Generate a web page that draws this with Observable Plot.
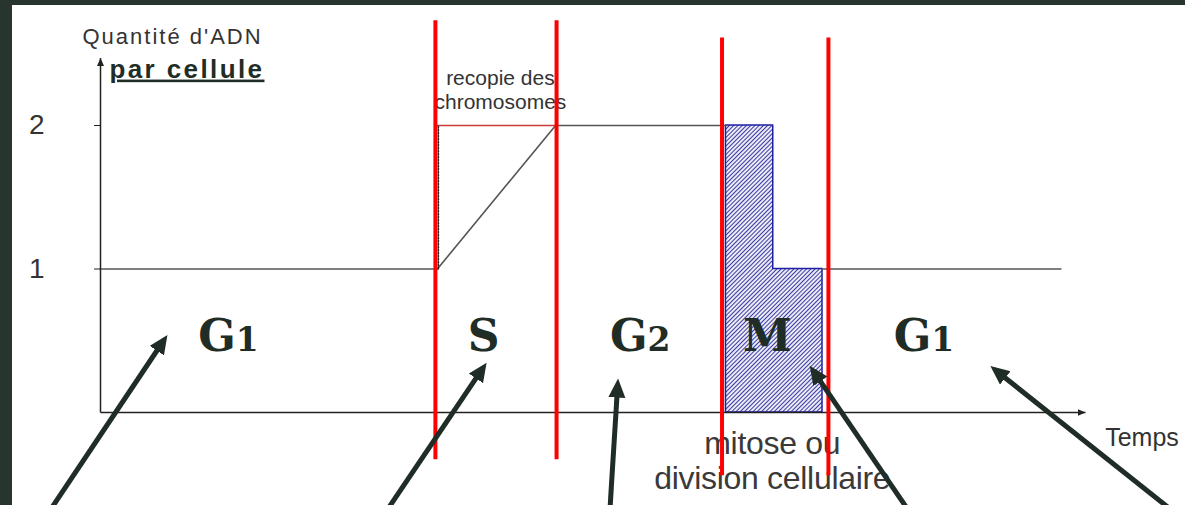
<!DOCTYPE html>
<html>
<head>
<meta charset="utf-8">
<script src="https://cdn.jsdelivr.net/npm/d3@7"></script>
<script src="https://cdn.jsdelivr.net/npm/@observablehq/plot@0.6"></script>
<style>
  html, body { margin: 0; padding: 0; }
  body { width: 1185px; height: 505px; overflow: hidden; background: #28352f; position: relative; }
  #panel { position: absolute; left: 12px; top: 5px; width: 1173px; height: 500px; background: #ffffff; overflow: hidden; }
  g[aria-description="title"] text { letter-spacing: 2px; }
  g[aria-description="subtitle"] text { letter-spacing: 2.4px; text-decoration: underline; }
  g[aria-description="mitosis-note"] text { letter-spacing: -0.3px; }
</style>
</head>
<body>
<div id="panel"></div>
<script>
// ---- data (time in arbitrary units 0..100, DNA quantity per cell) ----
const dnaTime1 = [0, 34.2, 46.2, 63.5];      // G1 -> S (replication) -> G2
const dnaQty1  = [1, 1, 2, 2];
const dnaTime2 = [73.3, 97.5];               // after mitosis (new G1)
const dnaQty2  = [1, 1];
const mitosisTime = [63.5, 68.3, 73.3];      // hatched mitosis block
const mitosisQty  = [2, 1, 1];
const replicationTime = [34.2, 46.2];        // "recopie des chromosomes"
const replicationQty  = [2, 2];
const dottedTime = [34.3, 34.3];
const dottedQty  = [1, 2];

const phaseNames   = ["G1", "S", "G2", "M", "G1"];
const phaseCenters = [13.0, 38.9, 54.8, 67.7, 83.6];
const phaseLabelQty = 0.53;

const boundaryTime   = [34.0, 46.3, 63.1, 73.9];
const boundaryTop    = [2.73, 2.73, 2.61, 2.61];
const boundaryBottom = [-0.33, -0.33, -0.44, -0.44];

const pointerTipT  = [6.4, 38.8, 52.5, 72.4, 90.9];
const pointerTipQ  = [0.50, 0.307, 0.188, 0.286, 0.293];
const pointerTailT = [-5.3, 28.9, 51.7, 82.2, 109.1];
const pointerTailQ = [-0.70, -0.70, -0.70, -0.70, -0.70];

const yTicks = [1, 2];
const yTickLabels = ["1", "2"];
const axisEndT = 100;
const axisEndQ = 2.47;

const titleText = "Quantité d'ADN";
const subtitleText = "par cellule";
const replicationText = "recopie des\nchromosomes";
const mitosisText = "mitose ou\ndivision cellulaire";
const timeText = "Temps";

// ---- tables built from the arrays ----
const line1 = dnaTime1.map((t, i) => ({t, q: dnaQty1[i], s: "a"}));
const line2 = dnaTime2.map((t, i) => ({t, q: dnaQty2[i], s: "b"}));
const mitosis = mitosisTime.map((t, i) => ({t, q: mitosisQty[i]}));
const replication = replicationTime.map((t, i) => ({t, q: replicationQty[i]}));
const dotted = dottedTime.map((t, i) => ({t, q: dottedQty[i]}));
const phases = phaseNames.map((name, i) => ({name, t: phaseCenters[i], q: phaseLabelQty}));
const boundaries = boundaryTime.map((t, i) => ({t, top: boundaryTop[i], bottom: boundaryBottom[i]}));
const pointers = pointerTipT.map((t, i) => ({t1: pointerTailT[i], q1: pointerTailQ[i], t2: t, q2: pointerTipQ[i]}));
const axes = [{t1: 0, q1: 0, t2: 0, q2: axisEndQ}, {t1: 0, q1: 0, t2: axisEndT, q2: 0}];
const tickFmt = v => yTickLabels[yTicks.indexOf(v)] ?? String(v);

const dark = "#1f2d26";
const hasAxisMark = typeof Plot.axisY === "function";
const marks = [
  Plot.areaY(mitosis, {x: "t", y: "q", curve: "step-after", fill: "url(#hatch)", stroke: "#1f1fa6", strokeWidth: 1.5}),
  Plot.line(line1.concat(line2), {x: "t", y: "q", z: "s", stroke: "#555", strokeWidth: 1.6}),
  Plot.line(replication, {x: "t", y: "q", stroke: "#cc3a3a", strokeWidth: 1.6}),
  Plot.line(dotted, {x: "t", y: "q", stroke: "#222", strokeWidth: 1.6, strokeDasharray: "1.5,1.5"}),
  Plot.link(axes, {x1: "t1", y1: "q1", x2: "t2", y2: "q2", stroke: "#222", strokeWidth: 1.5, ariaDescription: "axisline"}),
  Plot.text([titleText], {x: -1.83, y: 2.571, text: d => d, textAnchor: "start", lineAnchor: "bottom", fontSize: 22, fill: "#333", ariaDescription: "title"}),
  Plot.text([subtitleText], {x: 0.91, y: 2.334, text: d => d, textAnchor: "start", lineAnchor: "bottom", fontSize: 26, fontWeight: "bold", fill: dark, ariaDescription: "subtitle"}),
  Plot.text([replicationText], {x: 40.6, y: 2.118, text: d => d, textAnchor: "middle", lineAnchor: "bottom", lineHeight: 1.1, fontSize: 21, fill: "#333"}),
  Plot.text([mitosisText], {x: 68.2, y: -0.53, text: d => d, textAnchor: "middle", lineAnchor: "bottom", lineHeight: 1.094, fontSize: 32, fill: "#3a3a3a", ariaDescription: "mitosis-note"}),
  Plot.text([timeText], {x: 102.0, y: -0.23, text: d => d, textAnchor: "start", lineAnchor: "bottom", fontSize: 25, fill: "#333"}),
  Plot.ruleX(boundaries, {x: "t", y1: "top", y2: "bottom", stroke: "#ff0000", strokeWidth: 4}),
  Plot.text(phases, {x: "t", y: "q", text: "name", textAnchor: "middle", lineAnchor: "middle", fontSize: 44, fontWeight: "bold", fontFamily: "DejaVu Serif", fill: dark, ariaDescription: "phase"}),
  Plot.link(pointers, {x1: "t1", y1: "q1", x2: "t2", y2: "q2", stroke: dark, strokeWidth: 5, ariaDescription: "pointer"})
];
if (hasAxisMark) {
  marks.push(Plot.axisY(yTicks, {tickSize: 6, tickPadding: 50, fontSize: 28, label: null, stroke: "#222", fill: "#333", tickFormat: tickFmt}));
}

const chart = Plot.plot({
  width: 1173,
  height: 500,
  marginLeft: 88,
  marginRight: 100,
  marginTop: 20,
  marginBottom: 93,
  style: {fontFamily: "Liberation Sans, Arial, sans-serif", background: "transparent", overflow: "visible"},
  x: {domain: [0, 100], range: [88, 1073], axis: null},
  y: {domain: [0, 2], range: [407, 120], ...(hasAxisMark ? {axis: null} : {ticks: yTicks, tickSize: 6, tickPadding: 50, label: null, tickFormat: tickFmt})},
  marks
});

// defs: hatch pattern + filled arrowheads
const ns = "http://www.w3.org/2000/svg";
const svg = chart.tagName.toLowerCase() === "svg" ? chart : chart.querySelector("svg");
const defs = document.createElementNS(ns, "defs");
defs.innerHTML = `
  <pattern id="hatch" patternUnits="userSpaceOnUse" width="3" height="3" patternTransform="rotate(45)">
    <rect width="3" height="3" fill="#ffffff"/>
    <line x1="1.5" y1="0" x2="1.5" y2="3" stroke="#3b3ba3" stroke-width="1.2"/>
  </pattern>
  <marker id="pointerHead" markerUnits="userSpaceOnUse" markerWidth="20" markerHeight="18" refX="12" refY="8.5" orient="auto">
    <path d="M0,0 L19,8.5 L0,17 Z" fill="${dark}"/>
  </marker>
  <marker id="axisHead" markerUnits="userSpaceOnUse" markerWidth="9" markerHeight="8" refX="8" refY="3.5" orient="auto">
    <path d="M0,0 L8,3.5 L0,7 Z" fill="#222"/>
  </marker>`;
svg.insertBefore(defs, svg.firstChild);
svg.querySelectorAll('g[aria-description="pointer"] path, g[aria-description="pointer"] line').forEach(p => p.setAttribute("marker-end", "url(#pointerHead)"));
svg.querySelectorAll('g[aria-description="axisline"] path, g[aria-description="axisline"] line').forEach(p => p.setAttribute("marker-end", "url(#axisHead)"));
// old-style looking digits in phase labels
svg.querySelectorAll('g[aria-description="phase"] text').forEach(t => {
  const m = t.textContent.match(/^(\D+)(\d+)$/);
  if (!m) return;
  t.textContent = "";
  const a = document.createElementNS(ns, "tspan"); a.textContent = m[1];
  const b = document.createElementNS(ns, "tspan"); b.textContent = m[2]; b.setAttribute("font-size", "33");
  t.appendChild(a); t.appendChild(b);
});
document.getElementById("panel").appendChild(chart);
</script>
</body>
</html>
